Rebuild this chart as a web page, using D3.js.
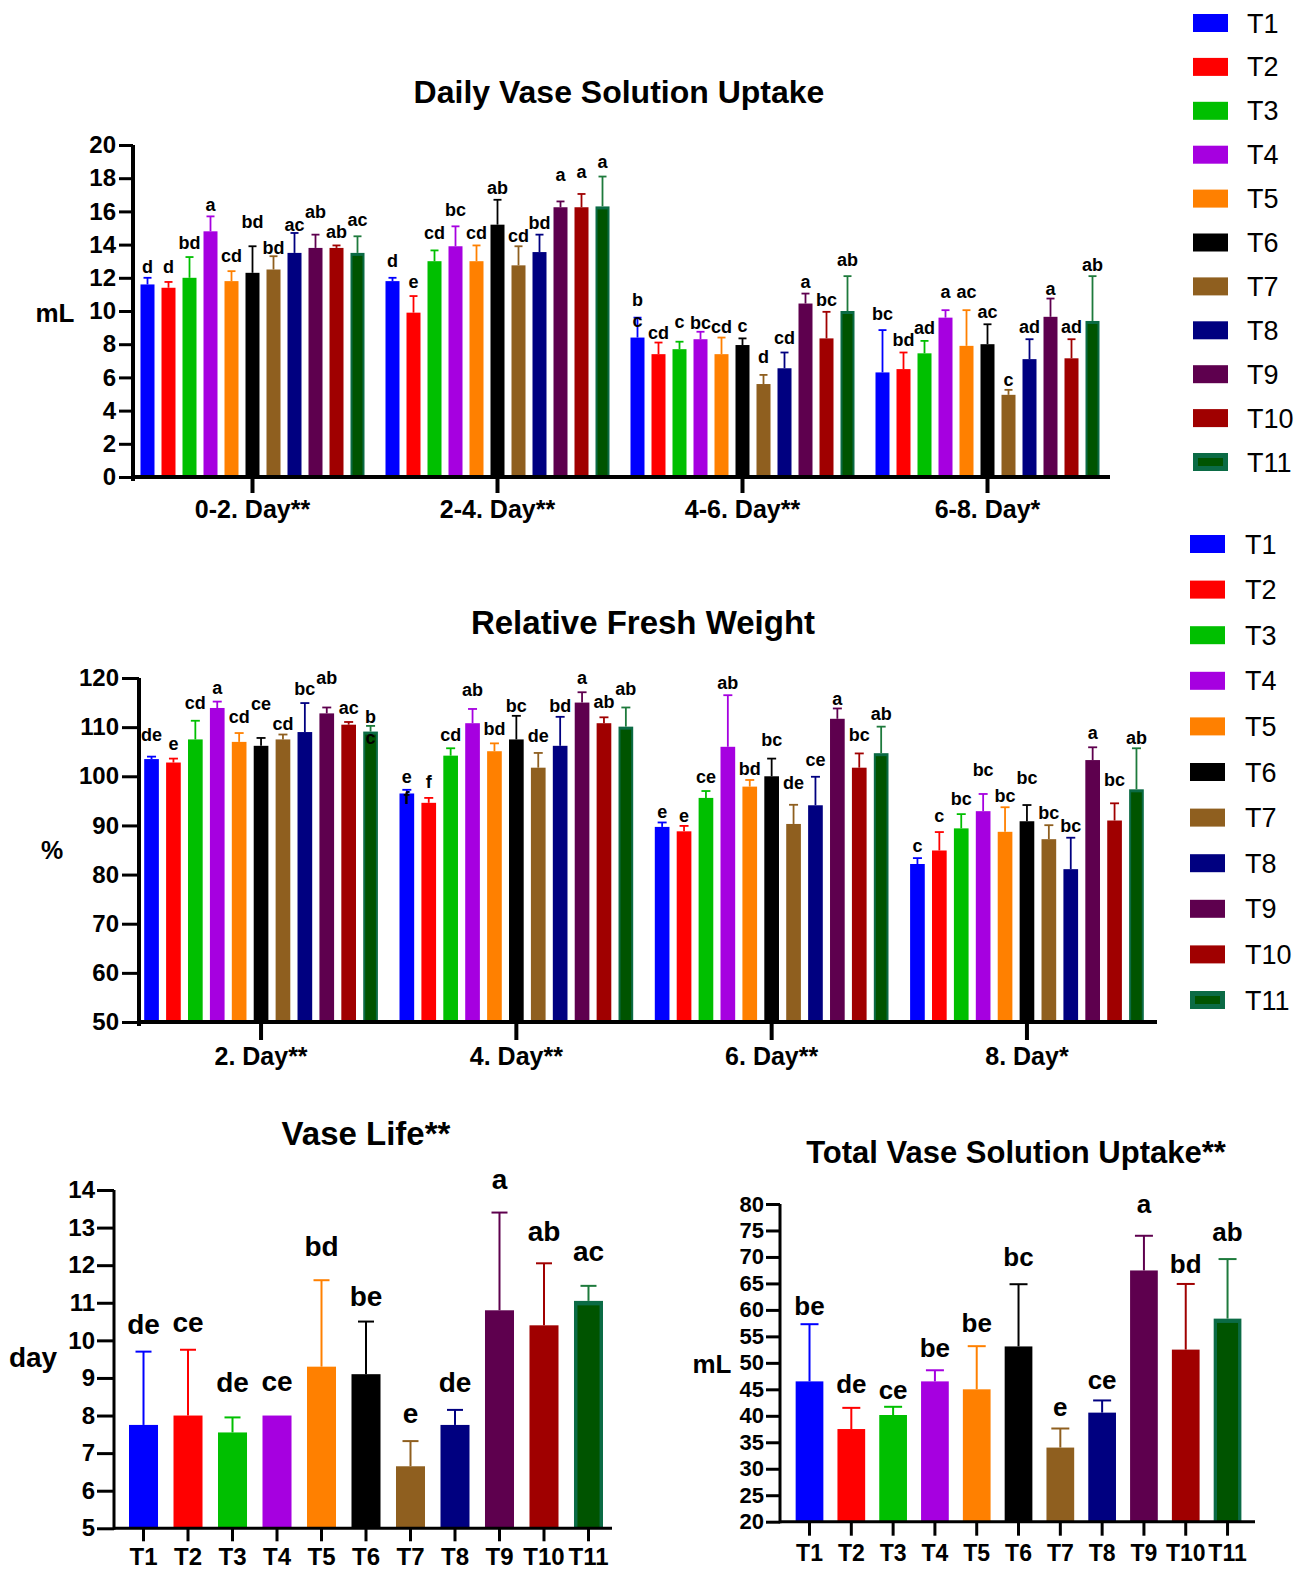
<!DOCTYPE html>
<html>
<head>
<meta charset="utf-8">
<script src="https://cdn.jsdelivr.net/npm/d3@7"></script>
<style>
  body { margin: 0; background: #fff; }
  svg { display: block; }
</style>
</head>
<body>
<svg id="fig" width="1309" height="1572"></svg>
<script>
// ---------------- data ----------------
const treatments = ["T1", "T2", "T3", "T4", "T5", "T6", "T7", "T8", "T9", "T10", "T11"];
const treatmentColors = ["#0000ff", "#ff0000", "#00bf00", "#a600e0", "#ff8000", "#000000",
                         "#8f5f1f", "#000080", "#5e004e", "#a00000", "#0b6b45"];

// Daily vase solution uptake (mL)
const uptakePeriods = ["0-2. Day**", "2-4. Day**", "4-6. Day**", "6-8. Day*"];
const uptakeMeans = [
  [11.6, 11.4, 12.0, 14.8, 11.8, 12.3, 12.5, 13.5, 13.8, 13.8, 13.5],
  [11.8, 9.9, 13.0, 13.9, 13.0, 15.2, 12.75, 13.55, 16.25, 16.25, 16.3],
  [8.4, 7.4, 7.7, 8.3, 7.4, 7.95, 5.6, 6.55, 10.45, 8.35, 10.0],
  [6.3, 6.5, 7.45, 9.6, 7.9, 8.0, 4.95, 7.1, 9.65, 7.15, 9.4]
];
const uptakeSD = [
  [0.4, 0.35, 1.25, 0.9, 0.6, 1.6, 0.8, 1.2, 0.8, 0.15, 1.0],
  [0.2, 1.0, 0.65, 1.2, 0.95, 1.5, 1.15, 1.05, 0.35, 0.8, 1.8],
  [1.2, 0.7, 0.45, 0.45, 1.0, 0.4, 0.55, 0.95, 0.6, 1.6, 2.1],
  [2.55, 1.0, 0.75, 0.45, 2.15, 1.2, 0.3, 1.2, 1.1, 1.15, 2.7]
];
const uptakeLetters = [
  ["d", "d", "bd", "a", "cd", "bd", "bd", "ac", "ab", "ab", "ac"],
  ["d", "e", "cd", "bc", "cd", "ab", "cd", "bd", "a", "a", "a"],
  ["b\nc", "cd", "c", "bc", "cd", "c", "d", "cd", "a", "bc", "ab"],
  ["bc", "bd", "ad", "a", "ac", "ac", "c", "ad", "a", "ad", "ab"]
];
const uptakeTicks = [0, 2, 4, 6, 8, 10, 12, 14, 16, 18, 20];

// Relative fresh weight (%)
const rfwDays = ["2. Day**", "4. Day**", "6. Day**", "8. Day*"];
const rfwMeans = [
  [103.5, 102.8, 107.5, 113.9, 107.0, 106.2, 107.5, 109.0, 112.8, 110.5, 109.1],
  [96.5, 94.6, 104.2, 110.8, 105.1, 107.5, 101.75, 106.2, 115.0, 110.8, 110.1],
  [89.7, 88.8, 95.6, 106.0, 97.9, 100.0, 90.3, 94.1, 111.7, 101.75, 104.7],
  [82.15, 84.9, 89.4, 92.9, 88.7, 90.85, 87.2, 81.1, 103.3, 91.0, 97.35]
];
const rfwSD = [
  [0.5, 0.8, 3.8, 1.3, 1.8, 1.6, 1.0, 5.9, 1.2, 0.55, 1.15],
  [0.75, 1.0, 1.5, 2.9, 1.6, 4.8, 3.0, 5.9, 2.1, 1.2, 3.9],
  [0.9, 1.1, 1.4, 10.5, 1.35, 3.6, 3.9, 5.8, 2.1, 2.9, 5.4],
  [1.2, 3.75, 2.9, 3.5, 5.0, 3.3, 2.85, 6.4, 2.6, 3.5, 8.35]
];
const rfwLetters = [
  ["de", "e", "cd", "a", "cd", "ce", "cd", "bc", "ab", "ac", "b\nc"],
  ["e\nf", "f", "cd", "ab", "bd", "bc", "de", "bd", "a", "ab", "ab"],
  ["e", "e", "ce", "ab", "bd", "bc", "de", "ce", "a", "bc", "ab"],
  ["c", "c", "bc", "bc", "bc", "bc", "bc", "bc", "a", "bc", "ab"]
];
const rfwTicks = [50, 60, 70, 80, 90, 100, 110, 120];

// Vase life (day)
const vaseLifeMeans = [7.75, 8.0, 7.55, 8.0, 9.3, 9.1, 6.65, 7.75, 10.8, 10.4, 11.05];
const vaseLifeSD = [1.95, 1.75, 0.4, 0, 2.3, 1.4, 0.67, 0.4, 2.6, 1.65, 0.4];
const vaseLifeLetters = ["de", "ce", "de", "ce", "bd", "be", "e", "de", "a", "ab", "ac"];
const vaseLifeTicks = [5, 6, 7, 8, 9, 10, 11, 12, 13, 14];

// Total vase solution uptake (mL)
const totalMeans = [46.5, 37.5, 40.15, 46.5, 45.0, 53.1, 34.0, 40.6, 67.45, 52.5, 58.35];
const totalSD = [10.8, 4.0, 1.55, 2.1, 8.15, 11.75, 3.6, 2.3, 6.55, 12.4, 11.25];
const totalLetters = ["be", "de", "ce", "be", "be", "bc", "e", "ce", "a", "bd", "ab"];
const totalTicks = [20, 25, 30, 35, 40, 45, 50, 55, 60, 65, 70, 75, 80];

// ---------------- layout ----------------
// extra lift (px) of the significance letters so neighbouring letters do not collide
const uptakeLift = [
  [-1, 3, 2, -1, 3, 12, -4, -4, 11, 1, 4],
  [5, 2, 5, 4, 0, 0, -2, 0, 14, 10, 3],
  [6, -2, 8, -3, -1, 0, 6, 3, 0, 0, 4],
  [4, 1, 1, 6, 6, 0, -2, 0, -2, 0, -1]
];
const rfwLift = [
  [10, 3, 6, 2, 4, 22, -1, 2, 17, 2, -3],
  [1, 4, 1, 7, 2, -2, 5, -1, 2, 3, 6],
  [-2, -2, 2, 0, -1, 7, 10, 5, -3, 6, 1],
  [0, 4, 3, 12, -1, 15, 0, 0, 2, 11, -2]
];
const vaseLifeLift = [0, 0, 7, 7, 6, -2, 0, 0, 6, 4, 7];
const totalLift = [-2, 4, -3, 2, 3, 7, 2, 0, 12, 0, 7];

const FONT = '"Liberation Sans", Arial, Helvetica, sans-serif';
const svg = d3.select("#fig");

const errColor = i => (i === 10 ? "#1e7a3c" : treatmentColors[i]);

function drawBar(g, i, x, w, yTop, yBase) {
  if (i === 10) {
    g.append("rect").attr("x", x).attr("y", yTop).attr("width", w).attr("height", yBase - yTop)
      .attr("fill", "#0b6b45");
    const inset = Math.max(2, w * 0.12);
    g.append("rect").attr("x", x + inset).attr("y", yTop + inset + 1)
      .attr("width", w - 2 * inset).attr("height", Math.max(0, yBase - yTop - inset - 1))
      .attr("fill", "#005400");
  } else {
    g.append("rect").attr("x", x).attr("y", yTop).attr("width", w).attr("height", yBase - yTop)
      .attr("fill", treatmentColors[i]);
  }
}

function drawError(g, i, cx, yMean, yTop, capW, sw) {
  if (Math.abs(yTop - yMean) < 0.5) return;
  g.append("line").attr("x1", cx).attr("x2", cx).attr("y1", yMean).attr("y2", yTop)
    .attr("stroke", errColor(i)).attr("stroke-width", sw);
  g.append("line").attr("x1", cx - capW / 2).attr("x2", cx + capW / 2).attr("y1", yTop).attr("y2", yTop)
    .attr("stroke", errColor(i)).attr("stroke-width", sw);
}

function drawLetters(g, text, cx, baseline, size, lineH) {
  text.split("\n").forEach((s, k) => {
    g.append("text").attr("x", cx).attr("y", baseline + k * lineH)
      .attr("text-anchor", "middle").attr("font-family", FONT).attr("font-weight", "bold")
      .attr("font-size", size).attr("fill", "#000").text(s);
  });
}

function styleAxis(sel, domainW, tickW, fontSize) {
  sel.attr("font-family", FONT).attr("font-size", fontSize).attr("font-weight", "bold");
  sel.select(".domain").attr("stroke", "#000").attr("stroke-width", domainW);
  sel.selectAll(".tick line").attr("stroke", "#000").attr("stroke-width", tickW);
  sel.selectAll(".tick text").attr("fill", "#000");
}

function addText(x, y, s, size, weight, anchor) {
  svg.append("text").attr("x", x).attr("y", y).attr("text-anchor", anchor || "middle")
    .attr("font-family", FONT).attr("font-weight", weight || "bold").attr("font-size", size)
    .attr("fill", "#000").text(s);
}

// grouped bar panel (groups along x, eleven treatments in each)
function groupedPanel(c) {
  const g = svg.append("g");
  const y = d3.scaleLinear().domain(c.yDomain).range(c.yRange);
  const x0 = d3.scaleBand().domain(c.groups).range(c.xRange);
  const x1 = d3.scaleBand().domain(treatments).range([-c.innerHalf, c.innerHalf]).paddingInner(c.innerPad);
  const yBase = y(c.yDomain[0]);

  c.groups.forEach((grp, gi) => {
    const gc = x0(grp) + x0.bandwidth() / 2;
    treatments.forEach((t, ti) => {
      const m = c.means[gi][ti], e = c.sd[gi][ti];
      const bx = gc + x1(t), bw = x1.bandwidth(), cx = bx + bw / 2;
      drawBar(g, ti, bx, bw, y(m), yBase);
      drawError(g, ti, cx, y(m), y(m + e), c.capW, c.errW);
      drawLetters(g, c.letters[gi][ti], cx, y(m + e) - c.gap - c.lift[gi][ti], c.letterSize, c.lineH);
    });
  });

  // y axis
  const ya = g.append("g").attr("transform", `translate(${c.axisX},0)`)
    .call(d3.axisLeft(y).tickValues(c.ticks).tickSize(c.tickLen).tickPadding(c.tickPad).tickSizeOuter(0));
  styleAxis(ya, c.axisW, c.tickW, c.tickFont);
  ya.select(".domain").attr("d", `M0,${c.yRange[1]}V${yBase + c.axisW}`);

  // x axis with one tick per group
  const xa = g.append("g").attr("transform", `translate(0,${yBase})`)
    .call(d3.axisBottom(x0).tickSize(c.groupTick).tickSizeOuter(0));
  styleAxis(xa, c.axisW, c.axisW, c.groupFont);
  xa.select(".domain").attr("d", `M${c.axisX - c.axisW / 2},0H${c.axisEnd}`);
  xa.selectAll(".tick text").attr("y", c.groupLabelY - yBase).attr("dy", 0);
}

// simple bar panel (one bar per treatment)
function simplePanel(c) {
  const g = svg.append("g");
  const y = d3.scaleLinear().domain(c.yDomain).range(c.yRange);
  const x = d3.scaleBand().domain(treatments).range(c.xRange).paddingInner(c.pad);
  const yBase = y(c.yDomain[0]);

  treatments.forEach((t, ti) => {
    const m = c.means[ti], e = c.sd[ti];
    const bx = x(t), bw = x.bandwidth(), cx = bx + bw / 2;
    drawBar(g, ti, bx, bw, y(m), yBase);
    drawError(g, ti, cx, y(m), y(m + e), c.capW, c.errW);
    drawLetters(g, c.letters[ti], cx, y(m + e) - c.gap - c.lift[ti], c.letterSize, 0);
  });

  const ya = g.append("g").attr("transform", `translate(${c.axisX},0)`)
    .call(d3.axisLeft(y).tickValues(c.ticks).tickSize(c.tickLen).tickPadding(c.tickPad).tickSizeOuter(0));
  styleAxis(ya, c.axisW, c.tickW, c.tickFont);
  ya.select(".domain").attr("d", `M0,${c.yRange[1]}V${yBase + c.axisW / 2}`);

  const xa = g.append("g").attr("transform", `translate(0,${yBase})`)
    .call(d3.axisBottom(x).tickSize(c.xTick).tickSizeOuter(0));
  styleAxis(xa, c.axisW, c.tickW, c.xFont);
  xa.select(".domain").attr("d", `M${c.axisX},0H${c.axisEnd}`);
  xa.selectAll(".tick text").attr("y", c.xLabelY - yBase).attr("dy", 0);
}

function legend(x, y0, pitch, textX) {
  const g = svg.append("g");
  treatments.forEach((t, i) => {
    const cy = y0 + i * pitch;
    if (i === 10) {
      g.append("rect").attr("x", x).attr("y", cy - 9).attr("width", 35).attr("height", 18).attr("fill", "#0b6b45");
      g.append("rect").attr("x", x + 5).attr("y", cy - 4).attr("width", 25).attr("height", 8).attr("fill", "#005400");
    } else {
      g.append("rect").attr("x", x).attr("y", cy - 9).attr("width", 35).attr("height", 18)
        .attr("fill", treatmentColors[i]);
    }
    g.append("text").attr("x", textX).attr("y", cy + 9.5).attr("font-family", FONT)
      .attr("font-size", 27).attr("fill", "#000").text(t);
  });
}

// ---------- Daily Vase Solution Uptake ----------
addText(619, 103, "Daily Vase Solution Uptake", 32);
addText(55, 322, "mL", 26);
groupedPanel({
  groups: uptakePeriods, means: uptakeMeans, sd: uptakeSD, letters: uptakeLetters, lift: uptakeLift,
  ticks: uptakeTicks, yDomain: [0, 20], yRange: [477, 145], xRange: [130, 1110],
  innerHalf: 112, innerPad: 1 / 3, axisX: 133, axisEnd: 1110, axisW: 4, tickW: 3,
  tickLen: 14, tickPad: 3, tickFont: 24, groupTick: 16, groupFont: 25, groupLabelY: 518,
  capW: 8, errW: 1.8, gap: 6, letterSize: 18, lineH: 21
});
legend(1193, 23, 43.9, 1247);

// ---------- Relative Fresh Weight ----------
addText(643, 634, "Relative Fresh Weight", 33);
addText(52, 859, "%", 25);
groupedPanel({
  groups: rfwDays, means: rfwMeans, sd: rfwSD, letters: rfwLetters, lift: rfwLift,
  ticks: rfwTicks, yDomain: [50, 120], yRange: [1022, 678], xRange: [133.4, 1154.6],
  innerHalf: 116.85, innerPad: 0.33, axisX: 139, axisEnd: 1157, axisW: 4, tickW: 3,
  tickLen: 17, tickPad: 3, tickFont: 24, groupTick: 18, groupFont: 25, groupLabelY: 1065,
  capW: 9, errW: 1.8, gap: 6, letterSize: 18, lineH: 21
});
legend(1190, 544, 45.6, 1245);

// ---------- Vase Life ----------
addText(366, 1145, "Vase Life**", 33);
addText(33, 1367, "day", 28);
simplePanel({
  means: vaseLifeMeans, sd: vaseLifeSD, letters: vaseLifeLetters, lift: vaseLifeLift,
  ticks: vaseLifeTicks, yDomain: [5, 14], yRange: [1528.3, 1190], xRange: [129, 603], pad: 0.348,
  axisX: 114, axisEnd: 612, axisW: 3, tickW: 3, tickLen: 17, tickPad: 2, tickFont: 24,
  xTick: 13, xFont: 24, xLabelY: 1565, capW: 16, errW: 2, gap: 18, letterSize: 28
});

// ---------- Total Vase Solution Uptake ----------
addText(1016, 1163, "Total Vase Solution Uptake**", 31);
addText(712, 1373, "mL", 26);
simplePanel({
  means: totalMeans, sd: totalSD, letters: totalLetters, lift: totalLift,
  ticks: totalTicks, yDomain: [20, 80], yRange: [1521.7, 1204], xRange: [795.65, 1241.4], pad: 0.337,
  axisX: 780, axisEnd: 1255, axisW: 3, tickW: 3, tickLen: 14, tickPad: 2, tickFont: 22,
  xTick: 14, xFont: 23, xLabelY: 1561, capW: 18, errW: 2, gap: 11, letterSize: 26
});
</script>
</body>
</html>
